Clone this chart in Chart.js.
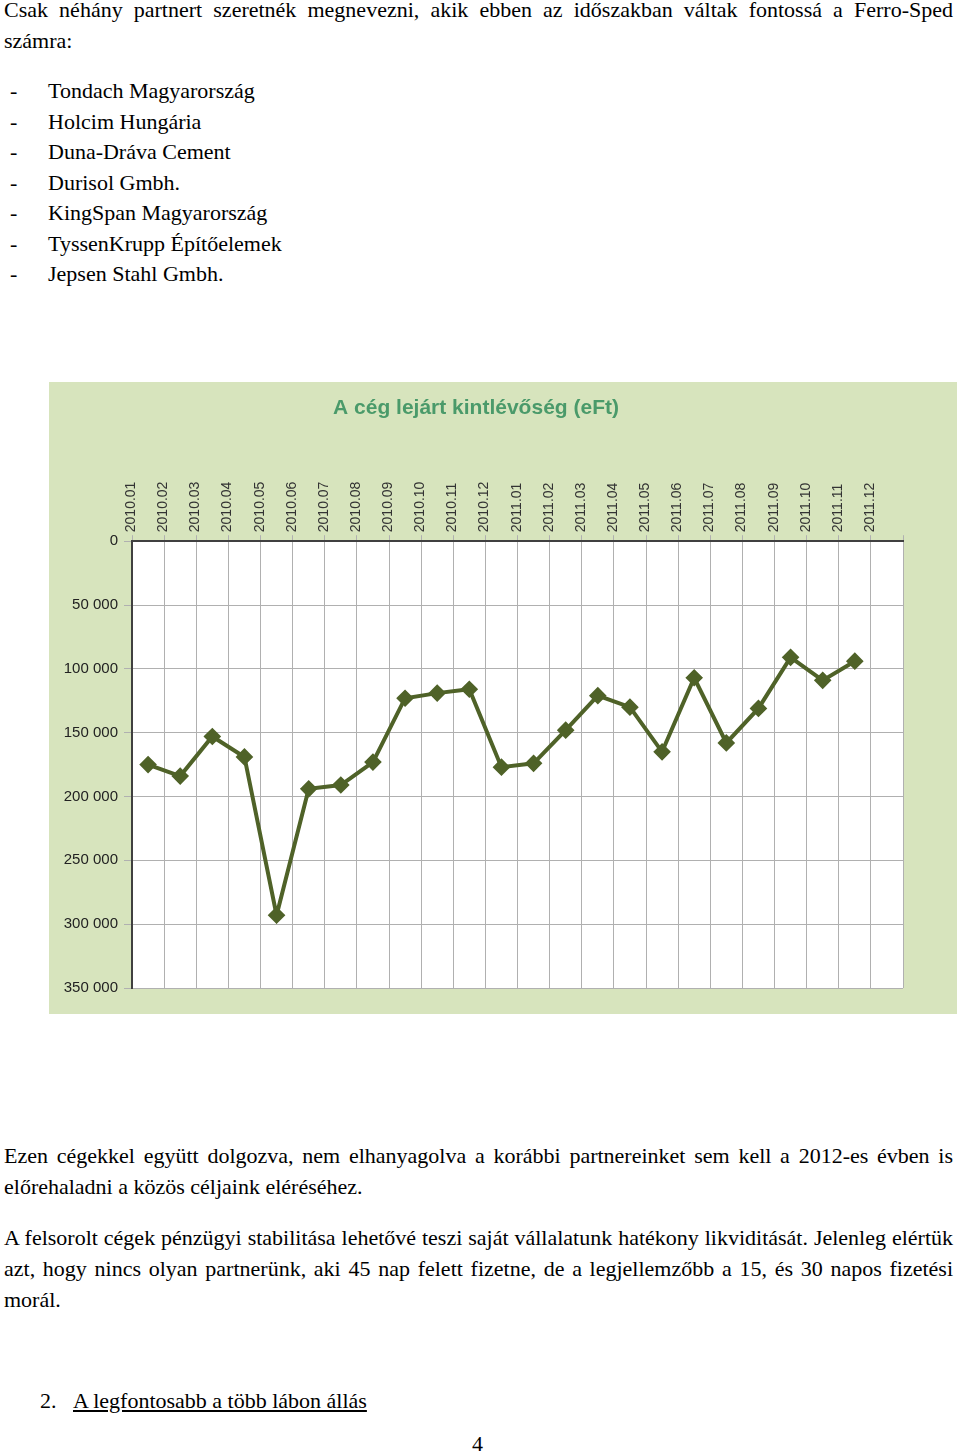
<!DOCTYPE html>
<html><head><meta charset="utf-8">
<script src="https://cdn.jsdelivr.net/npm/chart.js@4"></script>
<style>
body{margin:0;width:960px;height:1454px;position:relative;font-family:"Liberation Serif","Times New Roman",serif;font-size:22px;color:#000;background:#fff}
.t{position:absolute;left:4px;right:7px;line-height:31px;text-align:justify}
.li{position:absolute;left:10px;line-height:31px}
.li span{position:absolute;left:38px;white-space:nowrap}
#box{position:absolute;left:49px;top:382px;width:908px;height:632px;background:#d7e4bd}
</style></head><body>
<div class="t" style="top:-6px">Csak néhány partnert szeretnék megnevezni, akik ebben az időszakban váltak fontossá a Ferro-Sped számra:</div>
<div class="li" style="top:75px">-<span>Tondach Magyarország</span></div>
<div class="li" style="top:106px">-<span>Holcim Hungária</span></div>
<div class="li" style="top:136px">-<span>Duna-Dráva Cement</span></div>
<div class="li" style="top:167px">-<span>Durisol Gmbh.</span></div>
<div class="li" style="top:197px">-<span>KingSpan Magyarország</span></div>
<div class="li" style="top:228px">-<span>TyssenKrupp Építőelemek</span></div>
<div class="li" style="top:258px">-<span>Jepsen Stahl Gmbh.</span></div>
<div id="box"><canvas id="c" width="908" height="632"></canvas></div>
<div class="t" style="top:1140px">Ezen cégekkel együtt dolgozva, nem elhanyagolva a korábbi partnereinket sem kell a 2012-es évben is előrehaladni a közös céljaink eléréséhez.</div>
<div class="t" style="top:1222px">A felsorolt cégek pénzügyi stabilitása lehetővé teszi saját vállalatunk hatékony likviditását. Jelenleg elértük azt, hogy nincs olyan partnerünk, aki 45 nap felett fizetne, de a legjellemzőbb a 15, és 30 napos fizetési morál.</div>
<div style="position:absolute;left:40px;top:1385px;line-height:31px">2.&nbsp;&nbsp;&nbsp;<u>A legfontosabb a több lábon állás</u></div>
<div style="position:absolute;left:472px;top:1428px;line-height:31px">4</div>
<script>
const categories=["2010.01","2010.02","2010.03","2010.04","2010.05","2010.06","2010.07","2010.08","2010.09","2010.10","2010.11","2010.12","2011.01","2011.02","2011.03","2011.04","2011.05","2011.06","2011.07","2011.08","2011.09","2011.10","2011.11","2011.12"];
const values=[175000,184000,153000,169000,293000,194000,191000,173000,123000,119000,116000,177000,174000,148000,121000,130000,165000,107000,158000,131000,91000,109000,94000,null];
const yTicks=[0,50000,100000,150000,200000,250000,300000,350000];
const plotBg={id:'plotBg',beforeDraw(ch){const a=ch.chartArea,x=ch.ctx;x.save();x.fillStyle='#fff';x.fillRect(a.left,a.top,a.right-a.left,a.bottom-a.top);x.restore();}};
new Chart(document.getElementById('c'),{type:'line',
data:{labels:categories,datasets:[{data:values,borderColor:'#4f6228',backgroundColor:'#4f6228',borderWidth:4,pointStyle:'rectRot',pointRadius:6,tension:0}]},
plugins:[plotBg],
options:{responsive:false,animation:false,
layout:{padding:{left:0,top:0,right:54,bottom:26}},
plugins:{legend:{display:false},tooltip:{enabled:false},
title:{display:true,text:'A cég lejárt kintlévőség (eFt)',color:'#4a9a6a',font:{family:'Arial, Liberation Sans',size:21,weight:'bold'},padding:{top:14,bottom:30}}},
scales:{
x:{position:'top',offset:true,grid:{color:'#b0b0b0',offset:true,tickLength:6},border:{color:'#404040',width:2},
ticks:{color:'#333',maxRotation:90,minRotation:90,font:{family:'Liberation Sans',size:14},autoSkip:false},
afterFit:a=>{a.height=90;}},
y:{reverse:true,min:0,max:350000,afterBuildTicks:a=>{a.ticks=yTicks.map(v=>({value:v}));},
grid:{color:'#b0b0b0',tickLength:8},border:{color:'#404040',width:2},
ticks:{color:'#222',font:{family:'Liberation Sans',size:15},padding:6,callback:v=>v.toLocaleString('en').replace(/,/g,' ')},
afterFit:a=>{a.width=83;}}}}});
</script></body></html>
